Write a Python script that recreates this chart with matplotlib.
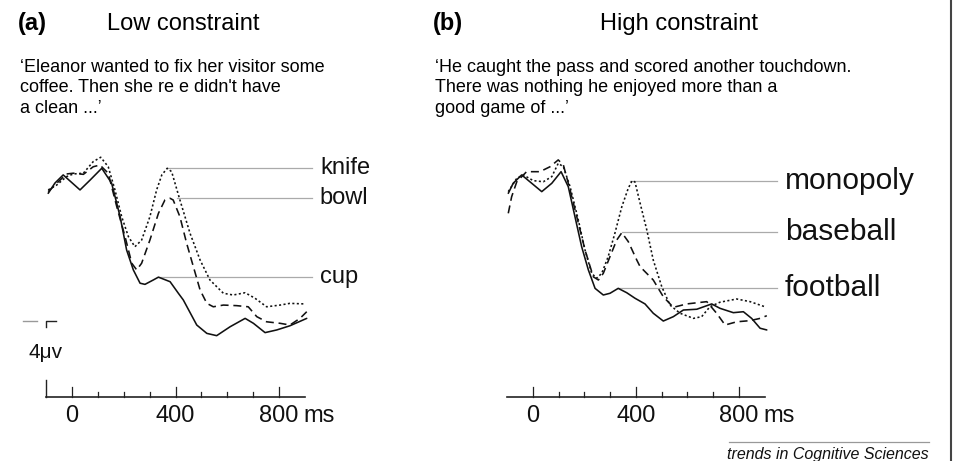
"""ERP waveforms for low vs. high constraint sentence endings (N400 example)."""

import matplotlib
matplotlib.use("Agg")
import matplotlib.pyplot as plt

plt.rcParams["font.family"] = ["Liberation Sans", "DejaVu Sans"]

W, H, DPI = 954, 461, 100

# ---- data: time (ms) and amplitude (µV, negative plotted up) ----
A_CUP_MS = [-92, -66, -34, 31, 70, 115, 153, 186, 211, 237, 263, 282, 314, 334, 379, 411,
            430, 482, 521, 559, 611, 669, 701, 746, 791, 842, 907]
A_CUP_UV = [-0.35, -0.89, -1.32, -0.53, -1.05, -1.67, -0.89, 0.88, 2.63, 3.68, 4.38, 4.44,
            4.21, 4.06, 4.30, 4.91, 5.26, 6.58, 7.02, 7.14, 6.67, 6.23, 6.49, 6.98, 6.84, 6.62, 6.23]

A_BOWL_MS = [-92, -59, -21, 5, 44, 82, 108, 140, 173, 205, 231, 250, 269, 301, 334, 359,
             379, 391, 417, 443, 469, 495, 521, 546, 585, 636, 681, 714, 752, 804, 842, 881, 907]
A_BOWL_UV = [-0.44, -0.88, -1.37, -1.41, -1.35, -1.75, -1.84, -1.41, 0.35, 1.93, 3.33, 3.68,
             3.33, 2.11, 0.70, 0.0, -0.09, 0.0, 0.88, 2.28, 3.51, 4.74, 5.44, 5.62, 5.53, 5.56,
             5.62, 6.14, 6.41, 6.49, 6.58, 6.23, 5.88]

A_KNIFE_MS = [-92, -59, -21, 5, 44, 82, 111, 140, 166, 192, 218, 243, 269, 301, 327, 347,
              368, 385, 417, 456, 495, 533, 585, 623, 669, 707, 752, 804, 842, 900]
A_KNIFE_UV = [-0.53, -0.79, -1.23, -1.37, -1.41, -2.02, -2.25, -1.75, -0.53, 0.88, 1.93, 2.46,
              2.11, 0.88, -0.53, -1.32, -1.67, -1.49, 0.0, 1.75, 3.16, 4.21, 4.91, 5.0, 4.88,
              5.17, 5.62, 5.53, 5.44, 5.47]

B_FOOTBALL_MS = [-96, -77, -44, -5, 34, 73, 109, 137, 163, 189, 215, 241, 273, 299, 331, 364,
                 396, 435, 467, 506, 545, 584, 636, 694, 726, 778, 817, 849, 882, 908]
B_FOOTBALL_UV = [-0.35, -0.88, -1.32, -0.88, -0.44, -0.88, -1.49, -0.70, 0.88, 2.46, 3.68, 4.65,
                 5.0, 4.91, 4.65, 4.88, 5.17, 5.47, 5.96, 6.37, 6.14, 5.79, 5.75, 5.47, 5.70,
                 5.93, 5.88, 6.23, 6.75, 6.84]

B_BASEBALL_MS = [-96, -83, -63, -25, 27, 66, 98, 118, 144, 170, 202, 234, 254, 273, 299, 325,
                 345, 370, 403, 416, 467, 506, 545, 597, 675, 713, 746, 791, 843, 882, 908]
B_BASEBALL_UV = [0.70, -0.17, -0.96, -1.49, -1.49, -1.75, -2.11, -1.84, -0.53, 0.88, 2.63, 4.04,
                 4.21, 3.86, 2.98, 2.11, 1.72, 2.19, 3.16, 3.51, 4.21, 5.09, 5.65, 5.47, 5.35,
                 5.96, 6.58, 6.41, 6.35, 6.23, 6.09]

B_MONOPOLY_MS = [-96, -63, -38, 1, 40, 73, 98, 118, 144, 176, 202, 228, 247, 267, 292, 318,
                 345, 370, 385, 396, 416, 442, 467, 500, 532, 571, 623, 655, 687, 726, 791, 843, 901]
B_MONOPOLY_UV = [-0.44, -1.14, -1.32, -1.02, -0.96, -1.23, -1.93, -1.75, -0.70, 1.05, 2.63, 3.86,
                 4.12, 3.86, 2.98, 1.75, 0.35, -0.62, -1.02, -0.95, 0.17, 1.58, 3.16, 4.56, 5.53,
                 5.96, 6.23, 6.14, 5.62, 5.38, 5.21, 5.35, 5.62]

# label line: (word, amplitude of the line, start time)
A_LABELS = [("knife", -1.67, 371), ("bowl", -0.09, 405), ("cup", 4.04, 332)]
B_LABELS = [("monopoly", -1.02, 377), ("baseball", 1.70, 344), ("football", 4.65, 331)]

TICKS_MS = [0, 100, 200, 300, 400, 500, 600, 700, 800]
MAJOR_TICKS = [0, 400, 800]

TITLE_A, TITLE_B = "Low constraint", "High constraint"
SENT_A = "\u2018Eleanor wanted to fix her visitor some\ncoffee. Then she re e didn't have\na clean ...\u2019"
SENT_B = ("\u2018He caught the pass and scored another touchdown.\n"
          "There was nothing he enjoyed more than a\ngood game of ...\u2019")

# ---- layout (pixels) ----
Y0_PX = 200          # pixel row of 0 µV
PX_PER_UV = 19.0
AXIS_UV = 10.35
SCALE_UV = 4.0

fig = plt.figure(figsize=(W / DPI, H / DPI), dpi=DPI)


def fx(px):
    return px / W


def fy(py):
    return 1 - py / H


def panel(left_px, right_px, zero_px, px_per_ms):
    ax = fig.add_axes([fx(left_px), 0, (right_px - left_px) / W, 1])
    ax.set_xlim((left_px - zero_px) / px_per_ms, (right_px - zero_px) / px_per_ms)
    ax.set_ylim((H - Y0_PX) / PX_PER_UV, -Y0_PX / PX_PER_UV)
    ax.axis("off")
    return ax


def waves(ax, solid, dashed, dotted):
    kw = dict(color="#111111", lw=1.15, solid_capstyle="round")
    ax.plot(*solid, ls="-", **kw)
    ax.plot(*dashed, ls=(0, (5, 3)), **kw)
    ax.plot(*dotted, ls=(0, (1.3, 1.5)), **kw)


def time_axis(ax, x0=-100, x1=900):
    ax.plot([x0, x1], [AXIS_UV, AXIS_UV], color="#222222", lw=1.2)
    for t in TICKS_MS:
        h = 0.53 if t in MAJOR_TICKS else 0.22
        ax.plot([t, t], [AXIS_UV, AXIS_UV - h], color="#222222", lw=0.9)
    for t in MAJOR_TICKS:
        ax.text(t, AXIS_UV + 1.0, str(t), ha="center", va="center", fontsize=17, color="#111111")
    ax.text(893, AXIS_UV + 1.0, "ms", ha="left", va="center", fontsize=17, color="#111111")


def labels(ax, items, line_end, text_x, size):
    for word, uv, t0 in items:
        ax.plot([t0, line_end], [uv, uv], color="#aaaaaa", lw=0.9, zorder=0)
        ax.text(text_x, uv, word, ha="left", va="center", fontsize=size, color="#111111")


ax_a = panel(0, 477, 72, 0.2588)
waves(ax_a, (A_CUP_MS, A_CUP_UV), (A_BOWL_MS, A_BOWL_UV), (A_KNIFE_MS, A_KNIFE_UV))
time_axis(ax_a)
labels(ax_a, A_LABELS, 927, 958, 17)

# 4 µV scale bar (broken, with label in the gap)
top = AXIS_UV - SCALE_UV
ax_a.plot([-100, -100, -61], [top + 0.32, top, top], color="#222222", lw=1.0)
ax_a.plot([-100, -100], [AXIS_UV - 0.9, AXIS_UV], color="#222222", lw=1.0)
ax_a.plot([-189, -135], [top, top], color="#999999", lw=1.0)
ax_a.text(-170, top + 1.7, "4\u03bcv", ha="left", va="center", fontsize=15, color="#111111")

ax_b = panel(477, 954, 533, 0.2575)
waves(ax_b, (B_FOOTBALL_MS, B_FOOTBALL_UV), (B_BASEBALL_MS, B_BASEBALL_UV),
      (B_MONOPOLY_MS, B_MONOPOLY_UV))
time_axis(ax_b)
labels(ax_b, B_LABELS, 948, 979, 21.5)

# titles and sentence frames
fig.text(fx(18), fy(30), "(a)", fontsize=17, fontweight="bold", va="baseline")
fig.text(fx(107), fy(30), TITLE_A, fontsize=17, va="baseline")
fig.text(fx(433), fy(30), "(b)", fontsize=17, fontweight="bold", va="baseline")
fig.text(fx(600), fy(30), TITLE_B, fontsize=17, va="baseline")
fig.text(fx(20), fy(59), SENT_A, fontsize=13, va="top", linespacing=1.26)
fig.text(fx(435), fy(59), SENT_B, fontsize=13, va="top", linespacing=1.26)

# journal footer and right border
fig.add_artist(plt.Line2D([fx(729), fx(929)], [fy(442), fy(442)], color="#999999", lw=0.9))
fig.text(fx(929), fy(459), "trends in Cognitive Sciences", fontsize=11.5, style="italic",
         ha="right", va="baseline", color="#111111")
fig.add_artist(plt.Line2D([fx(951), fx(951)], [0, 1], color="#444444", lw=1.5))

fig.savefig("out.png", dpi=DPI)
